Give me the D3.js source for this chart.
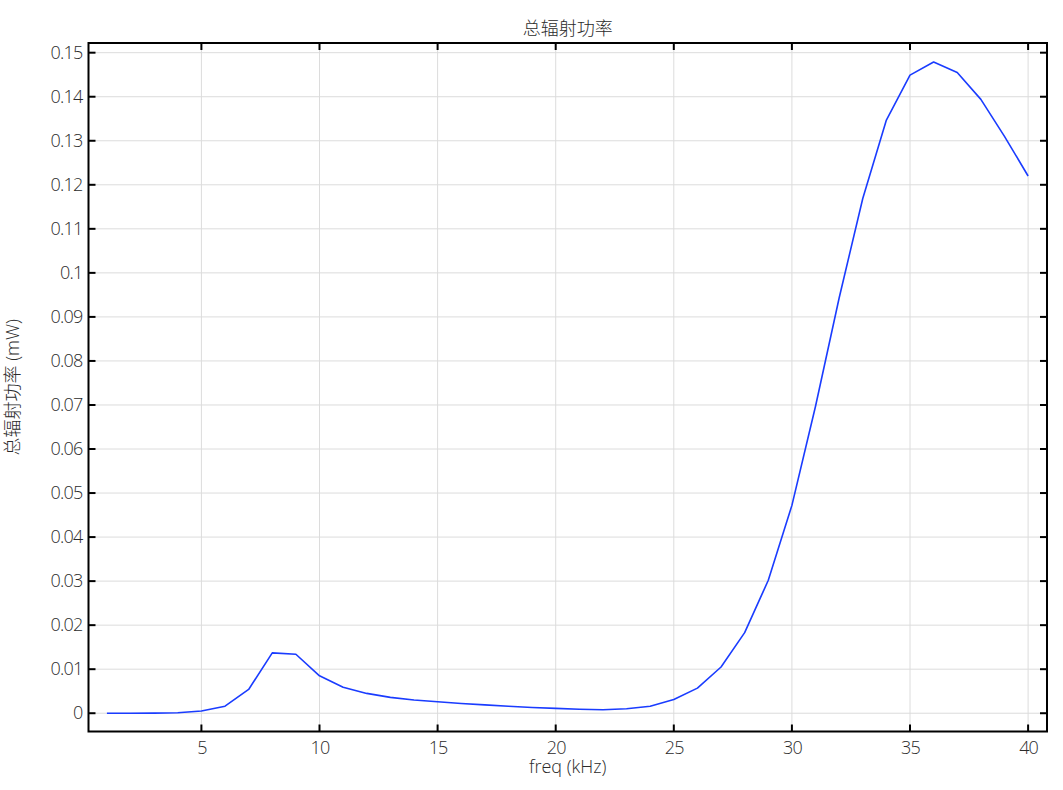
<!DOCTYPE html>
<meta charset="utf-8">
<head>
  <style>
    body { margin: 0; background: #fff; }
    text { font-family: "Open Sans", "Noto Sans CJK SC", sans-serif; font-weight: 300; }
  </style>
</head>
<body>
  <div id="chart"></div>
  <script src="https://d3js.org/d3.v7.min.js"></script>
  <script>
    // 频率 (kHz)
    var freq = [1, 2, 3, 4, 5, 6, 7, 8, 9, 10,
      11, 12, 13, 14, 15, 16, 17, 18, 19, 20,
      21, 22, 23, 24, 25, 26, 27, 28, 29, 30,
      31, 32, 33, 34, 35, 36, 37, 38, 39, 40];
    // 总辐射功率 (mW)
    var power = [0, 0, 0.00003, 0.0001, 0.0005, 0.0016, 0.0054, 0.0137, 0.0134, 0.0085,
      0.0059, 0.0045, 0.0036, 0.0030, 0.0026, 0.0022, 0.0019, 0.0016, 0.0013, 0.0011,
      0.0009, 0.0008, 0.0010, 0.0016, 0.0031, 0.0057, 0.0105, 0.0183, 0.0302, 0.0472,
      0.0697, 0.0943, 0.1169, 0.1347, 0.1449, 0.1479, 0.1455, 0.1394, 0.1310, 0.1220];
    var xTicks = [5, 10, 15, 20, 25, 30, 35, 40];
    var yTicks = [0, 0.01, 0.02, 0.03, 0.04, 0.05, 0.06, 0.07, 0.08, 0.09, 0.1, 0.11, 0.12, 0.13, 0.14, 0.15];

    (function () {
      var width = 1063, height = 790;
      var pL = 88.5, pR = 1047, pT = 43, pB = 731.5;
      var txt = "#2b2b2b";

      var svg = d3.select("#chart").append("svg")
        .attr("width", width)
        .attr("height", height);

      var x = d3.scaleLinear().domain([0.22, 40.8]).range([pL, pR]);
      var y = d3.scaleLinear().domain([-0.00415, 0.1522]).range([pB, pT]);

      // グリッド
      svg.append("g").selectAll("line")
        .data(xTicks).enter().append("line")
        .attr("x1", d => x(d)).attr("x2", d => x(d))
        .attr("y1", pT).attr("y2", pB)
        .attr("stroke", "#dcdcdc").attr("stroke-width", 1);
      svg.append("g").selectAll("line")
        .data(yTicks).enter().append("line")
        .attr("x1", pL).attr("x2", pR)
        .attr("y1", d => y(d)).attr("y2", d => y(d))
        .attr("stroke", "#dcdcdc").attr("stroke-width", 1);

      // 曲線
      var line = d3.line()
        .x((d, i) => x(freq[i]))
        .y(d => y(d));
      svg.append("path")
        .datum(power)
        .attr("fill", "none")
        .attr("stroke", "#1a3cff")
        .attr("stroke-width", 1.6)
        .attr("stroke-linejoin", "round")
        .attr("d", line);

      // 軸（内向き目盛り）
      var tk = 7;
      var bottomAxis = d3.axisBottom(x).tickValues(xTicks).tickSize(0).tickPadding(10).tickFormat(d3.format("d"));
      var gb = svg.append("g").attr("transform", "translate(0," + pB + ")").call(bottomAxis);
      gb.select(".domain").remove();
      gb.selectAll("text")
        .style("font-size", "18px").style("letter-spacing", "-0.8px").style("fill", txt);

      var leftAxis = d3.axisLeft(y).tickValues(yTicks).tickSize(0).tickPadding(6)
        .tickFormat(d => d === 0 ? "0" : String(+d.toFixed(2)));
      var gl = svg.append("g").attr("transform", "translate(" + pL + ",0)").call(leftAxis);
      gl.select(".domain").remove();
      gl.selectAll("text")
        .style("font-size", "18px").style("letter-spacing", "-0.8px").style("fill", txt);

      var ticks = svg.append("g").attr("stroke", "#000").attr("stroke-width", 2);
      xTicks.forEach(function (d) {
        ticks.append("line").attr("x1", x(d)).attr("x2", x(d)).attr("y1", pB).attr("y2", pB - tk);
        ticks.append("line").attr("x1", x(d)).attr("x2", x(d)).attr("y1", pT).attr("y2", pT + tk);
      });
      yTicks.forEach(function (d) {
        ticks.append("line").attr("x1", pL).attr("x2", pL + tk).attr("y1", y(d)).attr("y2", y(d));
        ticks.append("line").attr("x1", pR).attr("x2", pR - tk).attr("y1", y(d)).attr("y2", y(d));
      });

      svg.append("rect")
        .attr("x", pL).attr("y", pT)
        .attr("width", pR - pL).attr("height", pB - pT)
        .attr("fill", "none").attr("stroke", "#000").attr("stroke-width", 2);

      // タイトル・ラベル
      svg.append("text")
        .attr("x", (pL + pR) / 2).attr("y", 35)
        .attr("text-anchor", "middle")
        .style("font-size", "18px").style("fill", txt)
        .text("总辐射功率");
      svg.append("text")
        .attr("x", (pL + pR) / 2).attr("y", 773)
        .attr("text-anchor", "middle")
        .style("font-size", "18px").style("fill", txt)
        .text("freq (kHz)");
      svg.append("text")
        .attr("transform", "translate(19," + ((pT + pB) / 2) + ") rotate(-90)")
        .attr("text-anchor", "middle")
        .style("font-size", "18px").style("fill", txt)
        .text("总辐射功率 (mW)");
    })();
  </script>
</body>
